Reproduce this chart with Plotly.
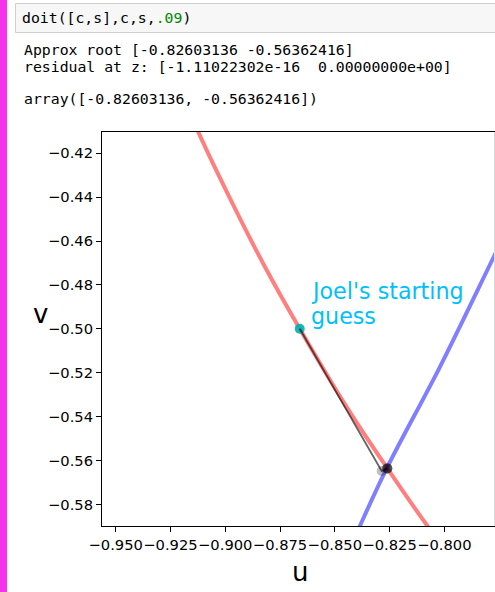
import plotly.graph_objects as go

# ---- data ----
circle_u = [-0.9165, -0.9124, -0.8966, -0.8811, -0.8660, -0.8450, -0.8260, -0.8076, -0.8000]
circle_v = [-0.400, -0.410, -0.443, -0.4732, -0.500, -0.535, -0.5636, -0.590, -0.600]
curve2_u = [-0.8430, -0.8386, -0.8263, -0.8020, -0.7776, -0.7700]
curve2_v = [-0.600, -0.590, -0.5636, -0.5173, -0.4675, -0.452]
iter_u = [-0.8660, -0.8286, -0.82605, -0.82603, -0.82603, -0.82603]
iter_v = [-0.5000, -0.5648, -0.56363, -0.56362, -0.56362, -0.56362]
start_u = [-0.8660]
start_v = [-0.5000]

x_ticks = [-0.950, -0.925, -0.900, -0.875, -0.850, -0.825, -0.800]
x_tick_labels = ["\u22120.950", "\u22120.925", "\u22120.900", "\u22120.875",
                 "\u22120.850", "\u22120.825", "\u22120.800"]
y_ticks = [-0.42, -0.44, -0.46, -0.48, -0.50, -0.52, -0.54, -0.56, -0.58]
y_tick_labels = ["\u22120.42", "\u22120.44", "\u22120.46", "\u22120.48", "\u22120.50",
                 "\u22120.52", "\u22120.54", "\u22120.56", "\u22120.58"]

cell_input = "doit([c,s],c,s,<span style='color:#008800'>.09</span>)"
out_lines = ["Approx root [-0.82603136 -0.56362416]",
             "residual at z: [-1.11022302e-16\u00a0 0.00000000e+00]",
             "array([-0.82603136, -0.56362416])"]
note_lines = ["Joel's starting", "guess"]

W, H = 495, 592
ML, MR, MT, MB = 102, 0, 132, 66
PW, PH = W - ML - MR, H - MT - MB


def px(x):
    return (x - ML) / PW


def py(y):
    return (H - MB - y) / PH


fig = go.Figure()
fig.add_trace(go.Scatter(x=circle_u, y=circle_v, mode="lines", line_shape="spline",
                         line=dict(color="rgba(255,0,0,0.5)", width=4)))
fig.add_trace(go.Scatter(x=curve2_u, y=curve2_v, mode="lines", line_shape="spline",
                         line=dict(color="rgba(0,0,255,0.5)", width=4)))
fig.add_trace(go.Scatter(x=start_u, y=start_v, mode="markers",
                         marker=dict(color="rgba(0,175,175,0.9)", size=10)))
fig.add_trace(go.Scatter(x=iter_u, y=iter_v, mode="lines",
                         line=dict(color="rgba(0,0,0,0.6)", width=1.8)))
fig.add_trace(go.Scatter(x=iter_u[1:], y=iter_v[1:], mode="markers",
                         marker=dict(color="rgba(0,0,0,0.25)", size=10)))

mono = dict(family="DejaVu Sans Mono", size=14.8, color="#000000")
annotations = [
    dict(x=px(20), y=py(17), xref="paper", yref="paper", text=cell_input,
         showarrow=False, xanchor="left", yanchor="middle", font=mono),
]
for t, yy in zip(out_lines, [50, 67, 98]):
    annotations.append(dict(x=px(22), y=py(yy), xref="paper", yref="paper", text=t,
                            showarrow=False, xanchor="left", yanchor="middle", font=mono))
note_font = dict(family="DejaVu Sans", size=22.2, color="#00BFFF")
for t, yy in zip(note_lines, [290.6, 315.6]):
    annotations.append(dict(x=px(308.5), y=py(yy), xref="paper", yref="paper", text=t,
                            showarrow=False, xanchor="left", yanchor="middle", font=note_font))
annotations.append(dict(x=px(40), y=py(314), xref="paper", yref="paper", text="v",
                        showarrow=False, xanchor="center", yanchor="middle",
                        font=dict(family="DejaVu Sans", size=26, color="#000")))
annotations.append(dict(x=px(300), y=py(572), xref="paper", yref="paper", text="u",
                        showarrow=False, xanchor="center", yanchor="middle",
                        font=dict(family="DejaVu Sans", size=26, color="#000")))

shapes = [
    dict(type="rect", xref="paper", yref="paper", x0=px(0), x1=px(7), y0=py(0), y1=py(H),
         fillcolor="#F533EC", line=dict(width=0), layer="below"),
    dict(type="rect", xref="paper", yref="paper", x0=px(15.5), x1=px(500), y0=py(3.5), y1=py(32.5),
         fillcolor="#F7F7F7", line=dict(color="#CFCFCF", width=1), layer="below"),
    dict(type="line", xref="paper", yref="paper", x0=px(494.5), x1=px(494.5), y0=0, y1=1,
         line=dict(color="#DADADA", width=1)),
]

tickfont = dict(family="DejaVu Sans", size=14.7, color="#000")
fig.update_layout(
    width=W, height=H, margin=dict(l=ML, r=MR, t=MT, b=MB, pad=0),
    paper_bgcolor="white", plot_bgcolor="white", showlegend=False,
    annotations=annotations, shapes=shapes,
    xaxis=dict(range=[-0.95624, -0.77688], tickvals=x_ticks, ticktext=x_tick_labels,
               tickangle=0, ticks="outside", ticklen=5, tickwidth=1, tickcolor="#000",
               showline=True, linecolor="#000", linewidth=1, mirror=True,
               showgrid=False, zeroline=False, tickfont=tickfont),
    yaxis=dict(range=[-0.58987, -0.41029], tickvals=y_ticks, ticktext=y_tick_labels,
               ticks="outside", ticklen=5, tickwidth=1, tickcolor="#000",
               showline=True, linecolor="#000", linewidth=1,
               showgrid=False, zeroline=False, tickfont=tickfont),
)
fig.write_html("out.html")
